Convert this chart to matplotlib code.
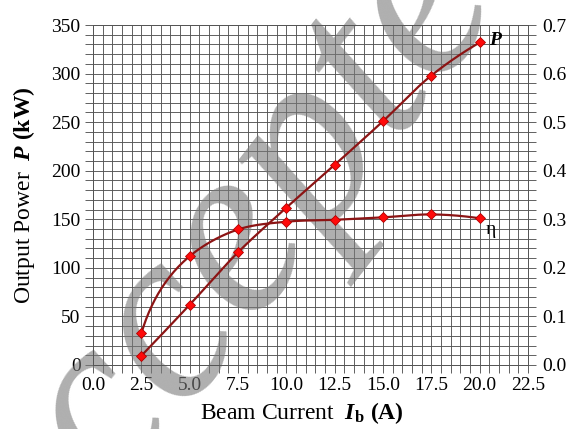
import numpy as np
import matplotlib
matplotlib.use("Agg")
import matplotlib.pyplot as plt
from matplotlib.ticker import MultipleLocator, FormatStrFormatter
from matplotlib.font_manager import FontProperties

# ---- data ----
beam_current = [2.5, 5.0, 7.5, 10.0, 12.5, 15.0, 17.5, 20.0]
power_kw = [9.5, 62, 116, 162, 206, 251, 298, 332]
efficiency = [0.065, 0.224, 0.279, 0.295, 0.299, 0.304, 0.310, 0.302]
x_ticks = [0.0, 2.5, 5.0, 7.5, 10.0, 12.5, 15.0, 17.5, 20.0, 22.5]
y_ticks = [0, 50, 100, 150, 200, 250, 300, 350]
y2_ticks = [0.0, 0.1, 0.2, 0.3, 0.4, 0.5, 0.6, 0.7]

plt.rcParams['font.family'] = ['Liberation Serif', 'DejaVu Serif']
plt.rcParams['mathtext.fontset'] = 'custom'
plt.rcParams['mathtext.rm'] = 'Liberation Serif'
plt.rcParams['mathtext.it'] = 'Liberation Serif:italic'
plt.rcParams['mathtext.bf'] = 'Liberation Serif:bold'
plt.rcParams['mathtext.bfit'] = 'Liberation Serif:italic:bold'


def smooth(x, y, sx, sy, n=40):
    """Parametric cubic Hermite curve through the points, built in screen
    space with chord-length parameters and Bessel tangents (drawing aid)."""
    P = np.column_stack([np.asarray(x, float) * sx, np.asarray(y, float) * sy])
    m = len(P)
    h = np.linalg.norm(np.diff(P, axis=0), axis=1)
    D = np.zeros_like(P)
    for i in range(1, m - 1):
        u0 = (P[i] - P[i - 1]) / h[i - 1]
        u1 = (P[i + 1] - P[i]) / h[i]
        D[i] = (u0 * h[i] + u1 * h[i - 1]) / (h[i - 1] + h[i])
    u0 = (P[1] - P[0]) / h[0]
    u1 = (P[2] - P[1]) / h[1]
    D[0] = u0 * (2 * h[0] + h[1]) / (h[0] + h[1]) - u1 * h[0] / (h[0] + h[1])
    u0 = (P[-2] - P[-3]) / h[-2]
    u1 = (P[-1] - P[-2]) / h[-1]
    D[-1] = u1 * (2 * h[-1] + h[-2]) / (h[-1] + h[-2]) - u0 * h[-1] / (h[-1] + h[-2])
    out = []
    for i in range(m - 1):
        t = np.linspace(0, 1, n, endpoint=(i == m - 2))[:, None]
        h00 = 2 * t ** 3 - 3 * t ** 2 + 1
        h10 = t ** 3 - 2 * t ** 2 + t
        h01 = -2 * t ** 3 + 3 * t ** 2
        h11 = t ** 3 - t ** 2
        out.append(h00 * P[i] + h10 * h[i] * D[i] + h01 * P[i + 1]
                   + h11 * h[i] * D[i + 1])
    C = np.vstack(out)
    return C[:, 0] / sx, C[:, 1] / sy


fig = plt.figure(figsize=(5.71, 4.29), dpi=100)
ax = fig.add_axes([0.1629, 0.1492, 0.7618, 0.7925])
ax2 = ax.twinx()

line_c = '#8c1414'
mark_c = '#ff0a0a'
grid_c = '#555555'

ax.set_xlim(0, 22.5)
ax.set_ylim(0, 350)
ax2.set_ylim(0, 0.7)

# screen scale (pixels per data unit) so the smoothing is done as drawn
bw = ax.bbox.width
bh = ax.bbox.height
kx = bw / 22.5

# P curve
cx, cy = smooth(beam_current, power_kw, kx, bh / 350)
ax.plot(cx, cy, color=line_c, lw=1.6, zorder=4)
ax.plot(beam_current, power_kw, ls='none', marker='D', ms=5.5,
        mfc=mark_c, mec='#b00000', mew=0.6, zorder=5)

# efficiency curve
ex, ey = smooth(beam_current, efficiency, kx, bh / 0.7)
ax2.plot(ex, ey, color=line_c, lw=1.6, zorder=4)
ax2.plot(beam_current, efficiency, ls='none', marker='D', ms=5.5,
         mfc=mark_c, mec='#b00000', mew=0.6, zorder=5)

ax.set_xticks(x_ticks)
ax.set_yticks(y_ticks)
ax2.set_yticks(y2_ticks)
ax.xaxis.set_major_formatter(FormatStrFormatter('%.1f'))
ax2.yaxis.set_major_formatter(FormatStrFormatter('%.1f'))
ax.xaxis.set_minor_locator(MultipleLocator(0.5))
ax.yaxis.set_minor_locator(MultipleLocator(10))
ax2.yaxis.set_minor_locator(MultipleLocator(0.02))

ax.grid(True, which='both', color=grid_c, lw=0.65)
ax.set_axisbelow(True)

for a in (ax, ax2):
    a.tick_params(which='both', direction='out', length=6, width=0.65,
                  color=grid_c, labelsize=14, pad=3)
    for s in a.spines.values():
        s.set_color(grid_c)
        s.set_linewidth(0.65)
ax2.tick_params(axis='y', pad=4)

ax.set_xlabel(r"Beam Current  $\mathbfit{I}_{\mathbf{b}}$ $\mathbf{(A)}$",
              fontsize=17)
ax.xaxis.set_label_coords(0.48, -0.104, transform=ax.transAxes)
ax.xaxis.label.set_va('top')
ax.set_ylabel(r"Output Power  $\mathbfit{P}$ $\mathbf{(kW)}$",
              fontsize=17, labelpad=10)

ax.text(20.5, 334, r"$\mathbfit{P}$", fontsize=14, va='center', ha='left')
ax2.text(20.3, 0.278, "η", fontsize=14, va='center', ha='left')

# watermark: place "Accepted" so that its second "c" lands where the reference shows it
wm_text = "Accepted"
wm_size = 178
wm_angle = 52
wm_style = 'italic'
fig.canvas.draw()
renderer = fig.canvas.get_renderer()
fp = FontProperties(family='Liberation Serif', style=wm_style, size=wm_size)
W = renderer.get_text_width_height_descent(wm_text, fp, ismath=False)[0]
w_ac = renderer.get_text_width_height_descent("Ac", fp, ismath=False)[0]
w_c = renderer.get_text_width_height_descent("c", fp, ismath=False)[0]
xh = renderer.get_text_width_height_descent("x", fp, ismath=False)[1]
along = (w_ac + w_c / 2) - W / 2
th = np.radians(wm_angle)
dvec = np.array([np.cos(th), np.sin(th)])
up = np.array([-np.sin(th), np.cos(th)])
c_center = np.array([178.0, 429 - 348.0])  # display pixels
anchor = c_center - along * dvec - (xh / 2) * up
ax.text(anchor[0] / 571, anchor[1] / 429, wm_text, transform=fig.transFigure,
        fontsize=wm_size, rotation=wm_angle, rotation_mode='anchor',
        style=wm_style, ha='center', va='baseline', color='#7a7a7a',
        alpha=0.6, zorder=2, clip_on=False)

fig.savefig("out.png", dpi=100)
